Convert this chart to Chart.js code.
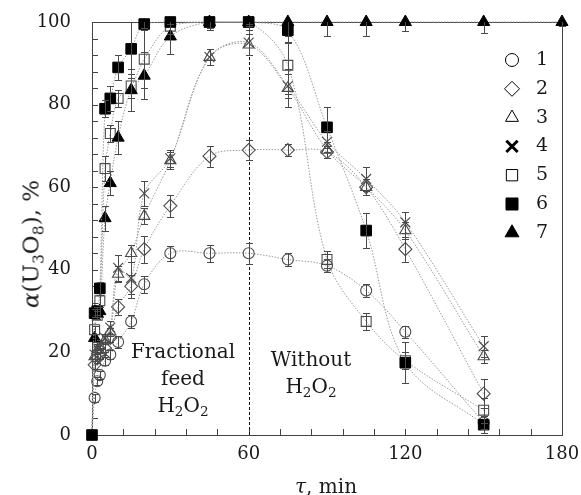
<!DOCTYPE html>
<html lang="en">
<head>
  <meta charset="UTF-8">
  <title>alpha(U3O8) vs time</title>
  <script src="https://cdn.jsdelivr.net/npm/chart.js"></script>
  <style>
    body {margin:0; background:#fff;}
    #wrap {position:relative; width:581px; height:495px; font-family:"DejaVu Serif", serif; color:#1a1a1a;}
    canvas {position:absolute; left:0; top:0;}
    .txt {position:absolute; white-space:nowrap; font-size:20px; line-height:27px; text-align:center;}
    .txt sub, .ttl sub {font-size:0.68em; vertical-align:-0.3em; line-height:0;}
    .ttl {position:absolute; white-space:nowrap; font-size:20px; line-height:20px;}
    #ytitle {left:31px; top:244px; font-size:23px; line-height:23px; transform:translate(-50%,-50%) rotate(-90deg);}
    #xtitle {left:326px; top:476px; transform:translateX(-50%);}
  </style>
</head>
<body>
<div id="wrap">
  <canvas id="grafico" width="581" height="495"></canvas>
  <div class="ttl" id="ytitle"><i>α</i>(U<sub>3</sub>O<sub>8</sub>), %</div>
  <div class="ttl" id="xtitle"><i>τ</i>, min</div>
  <div class="txt" style="left:183px; top:338px; transform:translateX(-50%);">Fractional<br>feed<br>H<sub>2</sub>O<sub>2</sub></div>
  <div class="txt" style="left:311px; top:346px; transform:translateX(-50%);">Without<br>H<sub>2</sub>O<sub>2</sub></div>
</div>

<script>
// time, min
const tiempos = [0, 1, 2, 3, 5, 7, 10, 15, 20, 30, 45, 60, 75, 90, 105, 120, 150, 180];

// alpha(U3O8), % for series 1..7
const serie1 = [0, 9, 13, 14.5, 18, 19.5, 22.5, 27.5, 36.5, 44, 44, 44, 42.5, 41, 35, 25, 3, null];
const serie2 = [0, 17, 18.5, 19.5, 21, 23.5, 31, 36, 45, 55.5, 67.5, 69, 69, 68.5, 60, 45, 10, null];
const serie3 = [0, 19, 20.5, 21.5, 23, 25, 39, 44, 53, 66.5, 91.5, 94.5, 84, 69, 60, 49.5, 19, null];
const serie4 = [0, 19.5, 21, 22, 23.5, 26, 40.5, 38, 58.5, 67, 91.5, 95, 84.5, 71, 62, 51.5, 21.5, null];
const serie5 = [0, 25.5, 29, 32.5, 64.5, 73, 81.5, 84.5, 91, 99, 100, 100, 89.5, 42.5, 27.5, 18, 6, null];
const serie6 = [0, 29.5, 30, 35.5, 79, 81.5, 89, 93.5, 99.5, 100, 100, 100, 98, 74.5, 49.5, 17.5, 2.5, null];
const serie7 = [0, 23.5, 29.5, 30, 52.5, 61, 72, 83.5, 87, 96.5, 100, 100, 100, 100, 100, 100, 100, 100];

// error bars (+/-)
const error1 = [0, 1, 1, 1, 1, 1, 1.5, 1.5, 2, 1.8, 2, 2.5, 1.5, 1.5, 1.5, 1.5, 1.5, null];
const error2 = [0, 1, 1, 1, 1, 1, 2, 2.8, 3.3, 2.6, 2.5, 2.5, 1.5, 1.5, 2, 3, 3.5, null];
const error3 = [0, 1, 1, 1, 1, 1, 2, 2, 2, 2, 2, 2.5, 4.5, 2, 2, 2, 1.5, null];
const error4 = [0, 1, 1, 1, 1, 1.5, 3.2, 3.8, 3, 2, 2, 3, 3, 2.5, 3, 2.5, 2.5, null];
const error5 = [0, 1, 1, 1.5, 3, 2, 2, 3, 7, 2, 1.5, 1, 7, 2, 2, 2, 3, null];
const error6 = [0, 1, 1, 1.5, 2, 3, 3, 7, 1, 0.5, 1.5, 0.5, 3, 5, 4.3, 5, 2, null];
const error7 = [0, 1, 1, 1.5, 3, 3, 4, 5, 5.7, 4.2, 2, 2, 4.8, 3.4, 3.4, 2.3, 2.7, 1];

const etiquetas = ['1', '2', '3', '4', '5', '6', '7'];
const corteH2O2 = 60; // end of fractional H2O2 feed

const series = [serie1, serie2, serie3, serie4, serie5, serie6, serie7];
const errores = [error1, error2, error3, error4, error5, error6, error7];
const estilos = [
  {shape: 'circle',   r: 5.5, fill: false},
  {shape: 'rectRot',  r: 6.5, fill: false},
  {shape: 'triangle', r: 6.5, fill: false},
  {shape: 'crossRot', r: 7,   fill: false},
  {shape: 'rect',     r: 7,   fill: false},
  {shape: 'rect',     r: 7.5, fill: true},
  {shape: 'triangle', r: 7,   fill: true}
];

function marca(ctx, shape, x, y, r) {
  ctx.beginPath();
  if (shape === 'circle') {
    ctx.arc(x, y, r, 0, Math.PI * 2);
  } else if (shape === 'rectRot') {
    ctx.moveTo(x, y - r); ctx.lineTo(x + r, y); ctx.lineTo(x, y + r); ctx.lineTo(x - r, y); ctx.closePath();
  } else if (shape === 'triangle') {
    ctx.moveTo(x, y - r);
    ctx.lineTo(x + r * 0.866, y + r * 0.5);
    ctx.lineTo(x - r * 0.866, y + r * 0.5);
    ctx.closePath();
  } else if (shape === 'crossRot') {
    const d = r * 0.707;
    ctx.moveTo(x - d, y - d); ctx.lineTo(x + d, y + d);
    ctx.moveTo(x + d, y - d); ctx.lineTo(x - d, y + d);
  } else {
    const s = r * 0.707;
    ctx.rect(x - s, y - s, 2 * s, 2 * s);
  }
}

const datasets = series.map((vals, i) => {
  const st = estilos[i];
  return {
    label: etiquetas[i],
    data: vals.map((v, j) => ({x: tiempos[j], y: v})),
    borderColor: '#9a9a9a',
    borderWidth: 1,
    borderDash: [1.5, 1.5],
    tension: 0.35,
    spanGaps: false,
    clip: false,
    pointStyle: st.shape,
    pointRadius: c => (c.dataIndex === 0 && i !== 5) ? 0 : st.r,
    pointBorderColor: st.fill ? '#000' : '#4a4a4a',
    pointBackgroundColor: st.fill ? '#000' : 'rgba(0,0,0,0)',
    pointBorderWidth: st.fill ? 1 : 1.1,
    pointHoverRadius: st.r,
    order: i === 5 ? -1 : 7 - i
  };
});

const decor = {
  id: 'decor',
  beforeDatasetsDraw(chart) {
    const {ctx, chartArea: a, scales: {x, y}} = chart;
    ctx.save();
    ctx.strokeStyle = '#444';
    ctx.lineWidth = 1;
    ctx.strokeRect(Math.round(a.left) + 0.5, Math.round(a.top) + 0.5,
      Math.round(a.right - a.left), Math.round(a.bottom - a.top));
    // inward ticks
    ctx.beginPath();
    for (let v = 0; v <= 100; v += 4) {
      const py = Math.round(y.getPixelForValue(v)) + 0.5;
      ctx.moveTo(a.left, py); ctx.lineTo(a.left + 6, py);
    }
    for (let t = 0; t <= 180; t += 12) {
      const px = Math.round(x.getPixelForValue(t)) + 0.5;
      ctx.moveTo(px, a.bottom); ctx.lineTo(px, a.bottom - 6);
    }
    ctx.stroke();
    // feed cut-off line
    ctx.setLineDash([3, 2]);
    ctx.strokeStyle = '#111';
    const pc = Math.round(x.getPixelForValue(corteH2O2)) + 0.5;
    ctx.beginPath();
    ctx.moveTo(pc, a.top); ctx.lineTo(pc, a.bottom);
    ctx.stroke();
    ctx.restore();
  },
  afterDatasetsDraw(chart) {
    const {ctx, chartArea: a, scales: {x, y}} = chart;
    ctx.save();
    ctx.beginPath();
    ctx.rect(a.left - 10, a.top, a.right - a.left + 20, a.bottom - a.top + 10);
    ctx.clip();
    ctx.strokeStyle = '#4a4a4a';
    ctx.lineWidth = 1;
    ctx.beginPath();
    series.forEach((vals, i) => {
      vals.forEach((v, j) => {
        const e = errores[i][j];
        if (v === null || !e) return;
        const px = Math.round(x.getPixelForValue(tiempos[j])) + 0.5;
        const y1 = Math.round(y.getPixelForValue(v + e)) + 0.5;
        const y2 = Math.round(y.getPixelForValue(v - e)) + 0.5;
        ctx.moveTo(px, y1); ctx.lineTo(px, y2);
        if (v + e <= 100) { ctx.moveTo(px - 3.5, y1); ctx.lineTo(px + 3.5, y1); }
        ctx.moveTo(px - 3.5, y2); ctx.lineTo(px + 3.5, y2);
      });
    });
    ctx.stroke();
    ctx.restore();

    // legend
    ctx.save();
    ctx.font = '19px "DejaVu Serif", serif';
    ctx.textBaseline = 'middle';
    ctx.fillStyle = '#1a1a1a';
    const lx = a.right - 50, tx = a.right - 26;
    etiquetas.forEach((lab, i) => {
      const ly = a.top + 38 + i * 28.8;
      const st = estilos[i];
      ctx.strokeStyle = '#000';
      ctx.fillStyle = '#000';
      ctx.lineWidth = st.shape === 'crossRot' ? 3 : 1;
      marca(ctx, st.shape, lx, ly, st.r + 1);
      if (st.fill) ctx.fill();
      ctx.stroke();
      ctx.fillStyle = '#1a1a1a';
      ctx.fillText(lab, tx, ly);
    });
    ctx.restore();
  }
};

const chart = new Chart(document.getElementById('grafico'), {
  type: 'line',
  data: {datasets},
  options: {
    responsive: false,
    animation: false,
    layout: {padding: {top: 22, right: 19, left: 0, bottom: 0}},
    plugins: {legend: {display: false}, tooltip: {enabled: false}},
    scales: {
      x: {
        type: 'linear', min: 0, max: 180,
        grid: {display: false, drawTicks: false},
        border: {display: false},
        ticks: {stepSize: 60, padding: 9, color: '#1a1a1a', font: {family: 'DejaVu Serif', size: 18}},
        afterFit(s) { s.height = 60; s.paddingLeft = 0; s.paddingRight = 0; }
      },
      y: {
        min: 0, max: 100,
        grid: {display: false, drawTicks: false},
        border: {display: false},
        ticks: {stepSize: 20, padding: 21, color: '#1a1a1a', font: {family: 'DejaVu Serif', size: 18}},
        afterFit(s) { s.width = 92; s.paddingTop = 0; s.paddingBottom = 0; }
      }
    }
  },
  plugins: [decor]
});
</script>
</body>
</html>
